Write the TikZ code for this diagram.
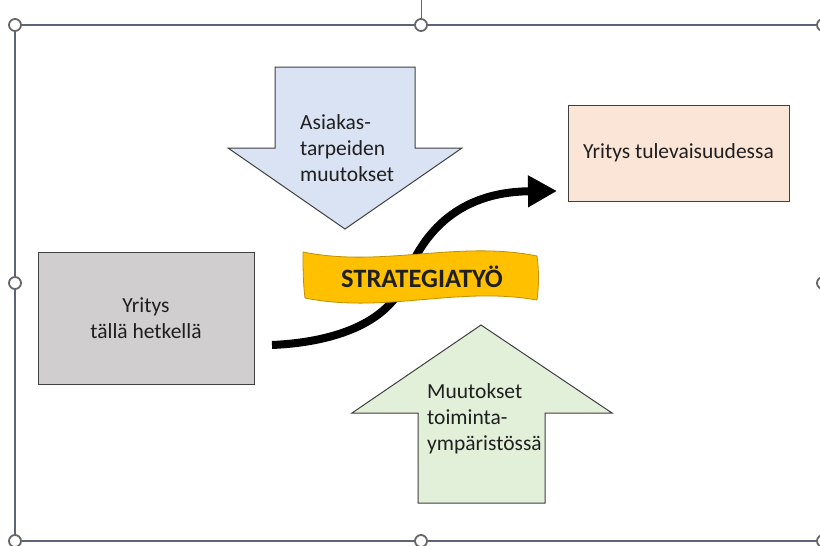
\documentclass[tikz,border=0pt]{standalone}
\usepackage{fontspec}
\setmainfont{Carlito}
\usetikzlibrary{arrows.meta}
\definecolor{boxline}{HTML}{404040}
\definecolor{blueA}{HTML}{DAE3F3}
\definecolor{greenA}{HTML}{E2F0D9}
\definecolor{peachA}{HTML}{FBE5D6}
\definecolor{greyA}{HTML}{D0CECE}
\definecolor{goldA}{HTML}{FFC000}
\definecolor{goldline}{HTML}{BF9000}
\definecolor{framecol}{HTML}{5B6577}
\definecolor{handlecol}{HTML}{666666}
\definecolor{txt}{HTML}{1F1F1F}
\tikzset{
  shapeline/.style={draw=boxline, line width=1pt},
  label21/.style={text=txt, font=\fontsize{21.5}{26}\selectfont, inner sep=0pt},
  handle/.style={circle, draw=handlecol, fill=white, line width=1.8pt, minimum size=12pt, inner sep=0pt},
  framestyle/.style={draw=framecol, line width=1.4pt},
  bigarrow/.style={line width=8pt, line cap=butt, -{Triangle[length=29pt,width=30pt]}}
}
\begin{document}
\begin{tikzpicture}[x=1pt,y=-1pt]
\useasboundingbox (0,0) rectangle (820,546);
\clip (0,0) rectangle (820,546);
\fill[white] (0,0) rectangle (820,546);

% selection frame
\draw[framestyle] (15,25) rectangle (823,541);
\draw[handlecol, line width=1pt] (421,0) -- (421,18);
\node[handle] (h1) at (15,25) {};
\node[handle] (h2) at (421,25) {};
\node[handle] (h3) at (823,25) {};
\node[handle] (h4) at (15,283) {};
\node[handle] (h5) at (823,283) {};
\node[handle] (h6) at (15,541) {};
\node[handle] (h7) at (421,541) {};
\node[handle] (h8) at (823,541) {};

% down arrow
\draw[shapeline, fill=blueA] (275,67) -- (415,67) -- (415,148) -- (462,148) -- (345,229) -- (228,148) -- (275,148) -- cycle;
\node[label21, align=left, anchor=west] (asiakas) at (300,148) {Asiakas-\\tarpeiden\\muutokset};

% up arrow
\draw[shapeline, fill=greenA] (418,503) -- (545,503) -- (545,413) -- (612,413) -- (481,325) -- (352,413) -- (418,413) -- cycle;
\node[label21, align=left, anchor=west] (muutokset) at (427,419) {Muutokset\\toiminta-\\ympäristössä};

% boxes
\node[shapeline, fill=peachA, minimum width=221pt, minimum height=96pt, inner sep=0pt, label21, text=txt] (future) at (678.5,153) {Yritys tulevaisuudessa};
\node[shapeline, fill=greyA, minimum width=216pt, minimum height=132pt, inner sep=0pt, label21, align=center, text=txt] (now) at (146,318) {Yritys\\tällä hetkellä};

% strategy curve
\coordinate (cstart) at (272,345);
\coordinate (cmid) at (405,280);
\coordinate (cend) at (557,191);
\draw[bigarrow] (cstart) .. controls (340,342) and (390,320) .. (cmid) .. controls (420,240) and (452,192) .. (cend);

% banner
\draw[draw=goldline, line width=0.8pt, fill=goldA]
  (303,252) .. controls (382,268) and (458,240) .. (537,256)
  .. controls (539,270) and (539,286) .. (537,300)
  .. controls (458,286) and (384,314) .. (305,298)
  .. controls (303,283) and (303,267) .. cycle;
\node[text=txt, font=\fontsize{26.5}{30}\selectfont\bfseries, inner sep=0pt] (strat) at (422,277) {STRATEGIATYÖ};
\end{tikzpicture}
\end{document}
